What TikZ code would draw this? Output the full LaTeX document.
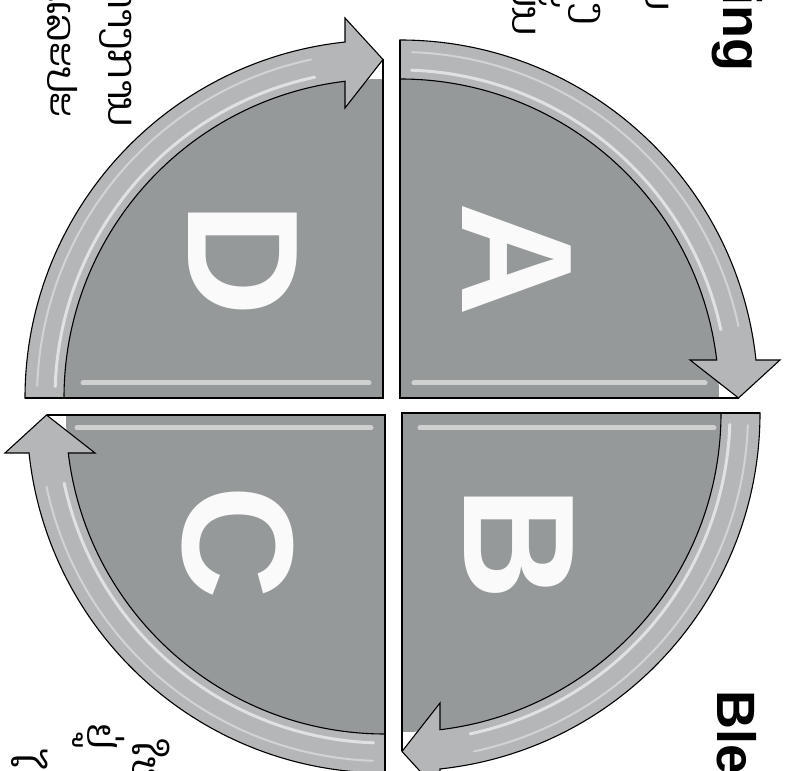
\documentclass[tikz,border=0pt]{standalone}
\usepackage{fontspec}
\setmainfont{Liberation Sans}
\newfontfamily\laofont[Script=Lao]{Dhyana}
\usetikzlibrary{positioning}
\definecolor{quadgray}{RGB}{150,153,154}
\definecolor{bandgray}{RGB}{180,182,183}

\begin{document}
\begin{tikzpicture}[x=1pt,y=1pt]
\tikzset{
  quad/.style={fill=quadgray},
  band/.style={fill=bandgray, draw=black, line width=1.1pt, line join=miter},
  edge/.style={draw=black, line width=1.1pt},
  shine/.style={draw=white, line cap=round, opacity=.6},
  letter/.style={text=white!96!gray, font=\fontsize{158}{158}\selectfont\bfseries, rotate=-90, inner sep=0pt},
  title/.style={font=\fontsize{54}{54}\selectfont\bfseries, rotate=-90, inner sep=0pt},
  lao/.style={font=\laofont\fontsize{40}{40}\selectfont, rotate=-90, inner sep=0pt}
}
\useasboundingbox (0,0) rectangle (790,771);
% four quarters, each with its curved arrow
\foreach \cx/\cy/\rot/\sa/\sb in {400/373/0/{(14,15)}/{(305,15)},
                                  402/358/-90/{(15,18)}/{(15,312)},
                                  385/356/180/{(14,13)}/{(308,13)},
                                  383/373/90/{(15,14)}/{(15,300)}} {
  \begin{scope}[shift={(\cx,\cy)}, rotate=\rot]
    \fill[quad] (0,0) -- (90:319) arc[start angle=90, end angle=0, radius=319] -- cycle;
    \draw[shine, line width=5pt, opacity=.55] \sa -- \sb;
    \draw[band] (90:358) arc[start angle=90, end angle=6.09, radius=358] -- (380,38) -- (338.5,0) -- (290,38)
      -- (6.84:319) arc[start angle=6.84, end angle=90, radius=319] -- cycle;
    \draw[shine, line width=3pt] (88:328) arc[start angle=88, end angle=12, radius=328];
    \draw[shine, line width=2pt, opacity=.4] (88:346) arc[start angle=88, end angle=12, radius=346];
    \draw[edge] (0,358) -- (0,0) -- (338.5,0);
  \end{scope}
}
\node[letter] (lA) at (517,511) {A};
\node[letter] (lB) at (519,227) {B};
\node[letter] (lC) at (238,228) {C};
\node[letter] (lD) at (243,511) {D};
% cut-off text round the page edge
\node[title, anchor=base east] (ttlA) at (723,699) {ing};
\node[title, anchor=base west] (ttlB) at (717,81) {Ble};
\node[lao, anchor=base east] (lo1) at (47,653) {ແລະປະ};
\node[lao, anchor=base east] (lo2) at (108,644) {ທາງການ};
\node[lao, anchor=base west] (lo3) at (87,48) {ຢູ່};
\node[lao, anchor=base west] (lo4) at (132,31) {ໃຫ້};
\node[lao, anchor=base west] (lo5) at (12,18) {ໄ};
\node[lao, anchor=base east] (lo6) at (512,736) {ນັ້ນ};
\node[lao, anchor=base east] (lo7) at (577,746) {ງ};
\node[lao, anchor=base east] (lo8) at (645,761) {ຍ};
\end{tikzpicture}
\end{document}
